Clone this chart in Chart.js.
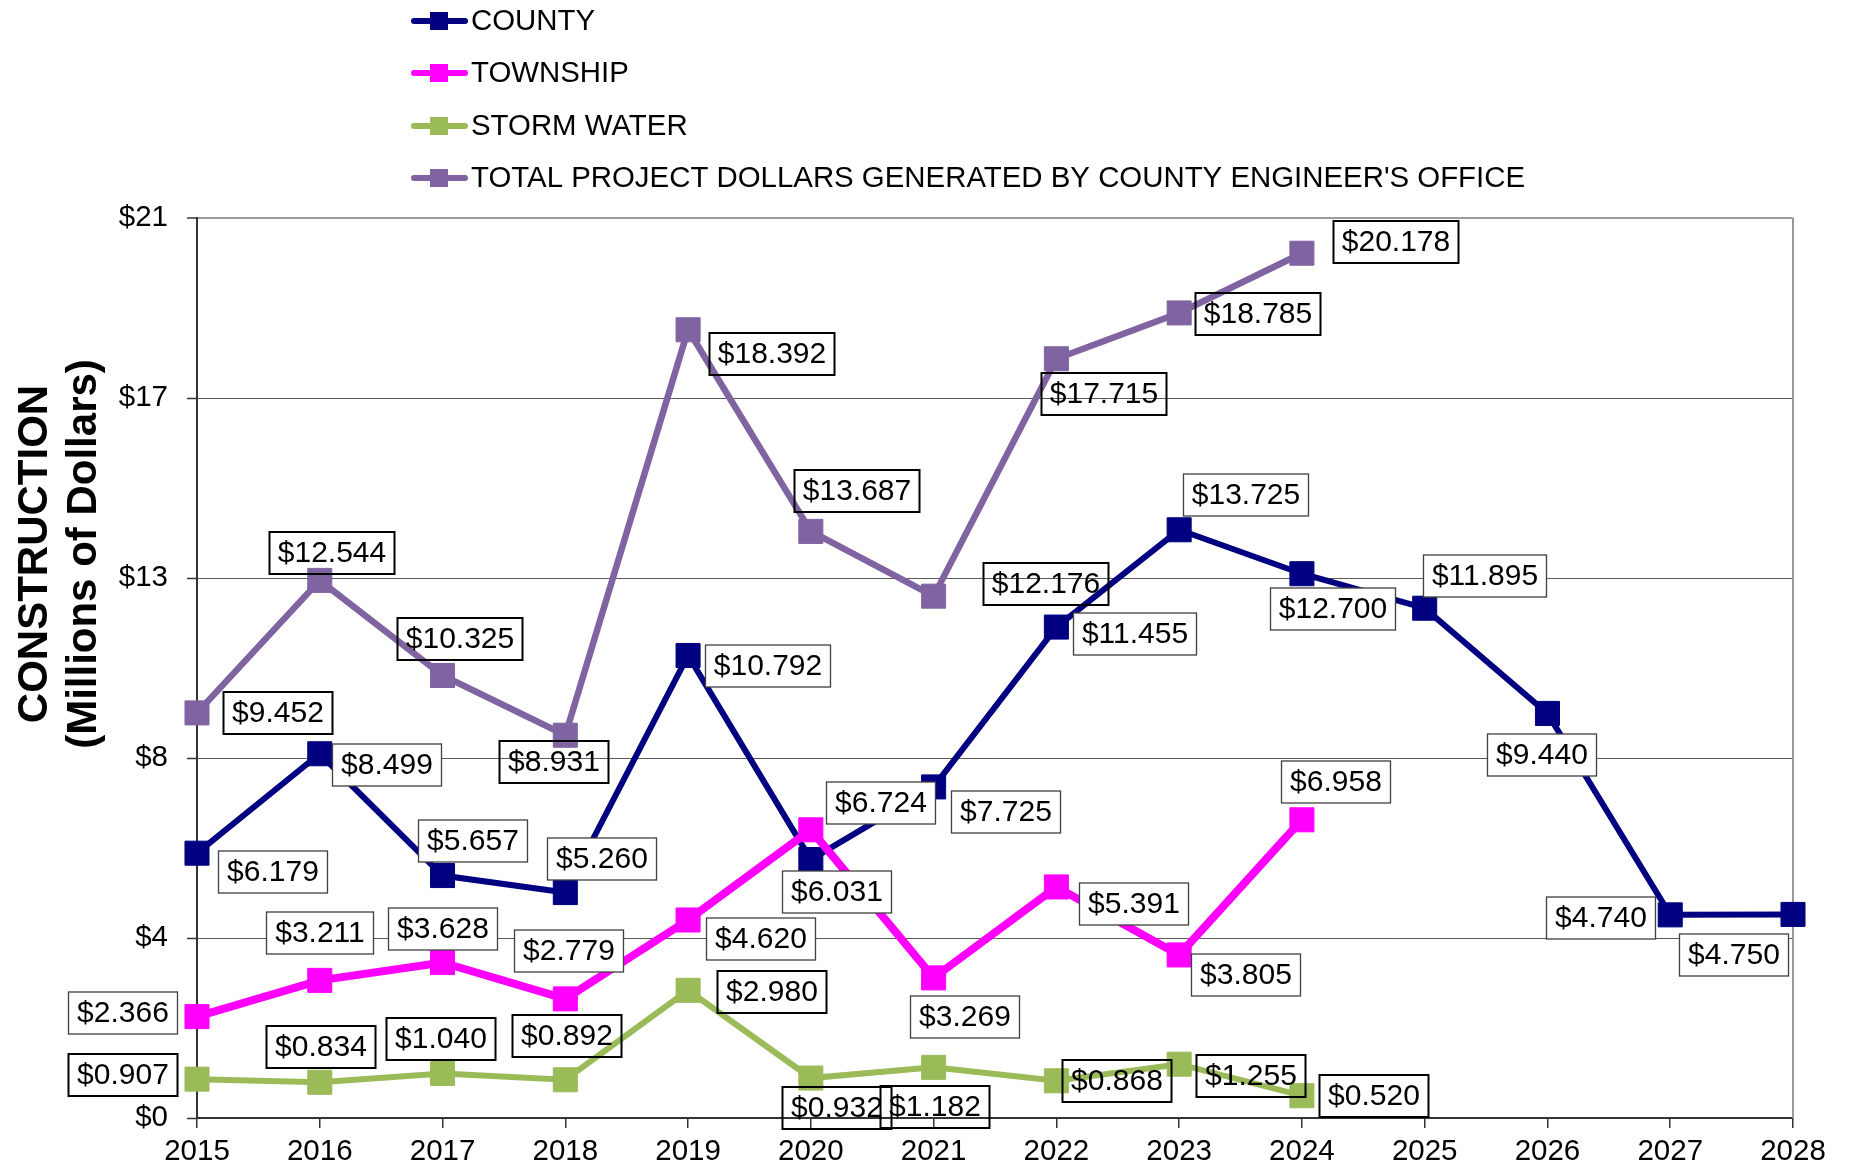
<!DOCTYPE html>
<html>
<head>
<meta charset="utf-8">
<script src="https://cdn.jsdelivr.net/npm/chart.js@4.4.1/dist/chart.umd.min.js"></script>
<style>
  html, body { margin: 0; padding: 0; background: #ffffff; overflow: hidden; }
  #wrap { width: 1851px; height: 1172px; position: relative; }
</style>
</head>
<body>
<div id="wrap"><canvas id="c" width="1851" height="1172"></canvas></div>
<script>
// ---------------- DATA ----------------
const years = ['2015','2016','2017','2018','2019','2020','2021','2022','2023','2024','2025','2026','2027','2028'];
const county       = [6.179, 8.499, 5.657, 5.260, 10.792, 6.031, 7.725, 11.455, 13.725, 12.700, 11.895, 9.440, 4.740, 4.750];
const township     = [2.366, 3.211, 3.628, 2.779, 4.620, 6.724, 3.269, 5.391, 3.805, 6.958, null, null, null, null];
const stormWater   = [0.907, 0.834, 1.040, 0.892, 2.980, 0.932, 1.182, 0.868, 1.255, 0.520, null, null, null, null];
const totalDollars = [9.452, 12.544, 10.325, 8.931, 18.392, 13.687, 12.176, 17.715, 18.785, 20.178, null, null, null, null];
const seriesNames  = ['COUNTY', 'TOWNSHIP', 'STORM WATER', "TOTAL PROJECT DOLLARS GENERATED BY COUNTY ENGINEER'S OFFICE"];
const yTickLabels  = ['$0', '$4', '$8', '$13', '$17', '$21'];
const yMax = 21;
const yTitleLines  = ['CONSTRUCTION', '(Millions of Dollars)'];

// ---------------- LAYOUT / STYLE (not data) ----------------
const seriesColors = ['#000080', '#FF00FF', '#9BBB59', '#8064A2'];
const seriesWidths = [6, 8, 6, 6.5];
// label box offsets from its point, in pixels [dx, dy]
const countyLabelOffsets   = [[76,19],[67,11],[30,-35],[37,-34],[80,11],[26,32],[72,25],[79,7],[67,-35],[31,35],[60,-32],[-5,42],[-69,3],[-59,41]];
const townshipLabelOffsets = [[-74,-4],[0,-47],[0,-34],[4,-48],[73,19],[70,-27],[31,39],[78,17],[67,20],[34,-38]];
const stormLabelOffsets    = [[-74,-4],[1,-35],[-2,-34],[2,-44],[84,2],[26,30],[1,40],[61,0],[72,12],[72,0]];
const totalLabelOffsets    = [[81,0],[12,-27],[17,-37],[-11,27],[84,24],[46,-40],[112,-12],[48,35],[79,1],[94,-11]];
const labelOffsets = [countyLabelOffsets, townshipLabelOffsets, stormLabelOffsets, totalLabelOffsets];
const labelBoxStyles = [
  { fill: true,  stroke: '#404040', lw: 1.3 },
  { fill: true,  stroke: '#404040', lw: 1.3 },
  { fill: false, stroke: '#000000', lw: 2 },
  { fill: false, stroke: '#000000', lw: 2 }
];
const FONT = '"Liberation Sans", Arial, Helvetica, sans-serif';

const boxLabelPlugin = {
  id: 'boxLabels',
  afterDatasetsDraw(chart) {
    const ctx = chart.ctx;
    ctx.save();
    ctx.font = '30px ' + FONT;
    ctx.textAlign = 'center';
    ctx.textBaseline = 'middle';
    chart.data.datasets.forEach((ds, di) => {
      const meta = chart.getDatasetMeta(di);
      const offs = labelOffsets[di];
      const st = labelBoxStyles[di];
      meta.data.forEach((pt, i) => {
        const v = ds.data[i];
        if (v === null || v === undefined || !offs[i]) return;
        const txt = '$' + v.toFixed(3);
        const w = Math.round(ctx.measureText(txt).width + 17);
        const h = 42;
        const cx = Math.round(pt.x + offs[i][0]);
        const cy = Math.round(pt.y + offs[i][1]);
        const x0 = cx - w / 2, y0 = cy - h / 2;
        if (st.fill) {
          ctx.fillStyle = '#ffffff';
          ctx.fillRect(x0, y0, w, h);
        }
        ctx.lineWidth = st.lw;
        ctx.strokeStyle = st.stroke;
        ctx.strokeRect(x0, y0, w, h);
        ctx.fillStyle = '#000000';
        ctx.fillText(txt, cx, cy + 1);
      });
    });
    ctx.restore();
  }
};

const frameAndLegendPlugin = {
  id: 'frameAndLegend',
  beforeDatasetsDraw(chart) {
    const { ctx, chartArea } = chart;
    ctx.save();
    ctx.strokeStyle = '#9a9a9a';
    ctx.lineWidth = 2;
    ctx.beginPath();
    ctx.moveTo(chartArea.right, chartArea.top);
    ctx.lineTo(chartArea.right, chartArea.bottom);
    ctx.stroke();
    ctx.restore();
  },
  afterDraw(chart) {
    const ctx = chart.ctx;
    ctx.save();
    // legend
    const rowY = [21, 73, 126, 178];
    chart.data.datasets.forEach((ds, i) => {
      const y = rowY[i];
      ctx.strokeStyle = ds.borderColor;
      ctx.lineWidth = 6;
      ctx.lineCap = 'round';
      ctx.beginPath();
      ctx.moveTo(414, y);
      ctx.lineTo(465, y);
      ctx.stroke();
      ctx.fillStyle = ds.borderColor;
      ctx.fillRect(430, y - 9, 18, 18);
      ctx.fillStyle = '#000';
      ctx.font = '29.4px ' + FONT;
      ctx.textAlign = 'left';
      ctx.textBaseline = 'middle';
      ctx.fillText(ds.label, 471, y + 1);
    });
    // y axis title
    ctx.fillStyle = '#000';
    ctx.font = 'bold 42px ' + FONT;
    ctx.textAlign = 'center';
    ctx.textBaseline = 'alphabetic';
    const baseX = [47, 96];
    yTitleLines.forEach((t, i) => {
      ctx.save();
      ctx.translate(baseX[i], 554);
      ctx.rotate(-Math.PI / 2);
      ctx.fillText(t, 0, 0);
      ctx.restore();
    });
    ctx.restore();
  }
};

const seriesData = [county, township, stormWater, totalDollars];
const datasets = seriesData.map((d, i) => ({
  label: seriesNames[i],
  data: d,
  borderColor: seriesColors[i],
  backgroundColor: seriesColors[i],
  borderWidth: seriesWidths[i],
  pointStyle: 'rect',
  pointRadius: 17,
  pointHoverRadius: 17,
  pointBorderWidth: 1,
  pointBackgroundColor: seriesColors[i],
  pointBorderColor: seriesColors[i],
  tension: 0,
  spanGaps: false,
  fill: false,
  order: 4 - i
}));

new Chart(document.getElementById('c'), {
  type: 'line',
  data: { labels: years, datasets },
  options: {
    responsive: false,
    animation: false,
    devicePixelRatio: 1,
    layout: { padding: { top: 218, right: 58, bottom: 0, left: 0 } },
    plugins: { legend: { display: false }, tooltip: { enabled: false } },
    scales: {
      x: {
        type: 'category',
        offset: false,
        grid: { drawOnChartArea: false, drawTicks: true, tickLength: 10, color: '#333', lineWidth: 1.5 },
        border: { color: '#333', width: 2 },
        ticks: { color: '#000', font: { family: FONT, size: 29.5 }, padding: 6, maxRotation: 0, autoSkip: false },
        afterFit(scale) { scale.height = 54; }
      },
      y: {
        min: 0,
        max: yMax,
        afterBuildTicks(scale) {
          scale.ticks = yTickLabels.map((_, i) => ({ value: i * yMax / (yTickLabels.length - 1) }));
        },
        grid: {
          color: (c) => (c.tick && c.tick.value >= yMax - 0.001) ? '#9a9a9a' : '#5a5a5a',
          lineWidth: (c) => (c.tick && c.tick.value >= yMax - 0.001) ? 2 : 1,
          drawTicks: true,
          tickLength: 10,
          tickColor: '#333',
          tickWidth: 1.5
        },
        border: { color: '#333', width: 2 },
        ticks: {
          color: '#000',
          font: { family: FONT, size: 29.5 },
          padding: 19,
          callback: (v, i) => yTickLabels[i]
        },
        afterFit(scale) { scale.width = 197; }
      }
    }
  },
  plugins: [frameAndLegendPlugin, boxLabelPlugin]
});
</script>
</body>
</html>
